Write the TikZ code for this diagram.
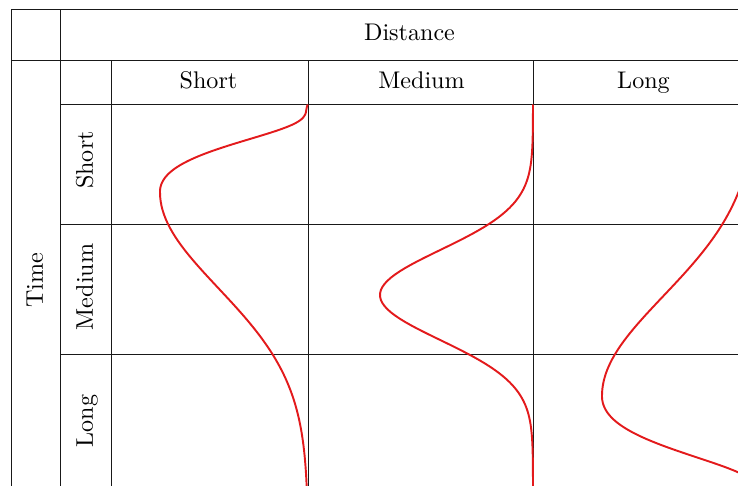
\documentclass[tikz,border=0pt]{standalone}
\definecolor{curvered}{RGB}{227,26,28}
\begin{document}
\begin{tikzpicture}[x=0.415pt,y=-0.415pt,
  grid/.style={line width=0.4pt,draw=black!90},
  curve/.style={line width=0.8pt,draw=curvered,line join=round},
  lbl/.style={inner sep=0pt,text height=1.5ex,text depth=.25ex},
  vlbl/.style={lbl,rotate=90}]
\useasboundingbox (0,0) rectangle (738,485);
\clip (0,0) rectangle (738,485);
% grid
\draw[grid] (11,9) rectangle (758,500);
\draw[grid] (60,9) -- (60,500);
\draw[grid] (11,60) -- (758,60);
\draw[grid] (111,60) -- (111,500);
\draw[grid] (60,104.5) -- (758,104.5);
\draw[grid] (308,60) -- (308,500);
\draw[grid] (533,60) -- (533,500);
\draw[grid] (60,224) -- (758,224);
\draw[grid] (60,354) -- (758,354);
% labels
\node[lbl] (dist) at (409.5,34.5) {Distance};
\node[lbl] (cshort) at (208.5,82.5) {Short};
\node[lbl] (cmed) at (421.5,82.5) {Medium};
\node[lbl] (clong) at (643.5,82.5) {Long};
\node[vlbl] (time) at (36.5,280) {Time};
\node[vlbl] (rshort) at (86.5,160) {Short};
\node[vlbl] (rmed) at (86.5,287) {Medium};
\node[vlbl] (rlong) at (86.5,421) {Long};
% curves
\draw[curve] plot[domain=104.5:192,samples=90,variable=\t]
  ({308-148*exp(max(-9,-ln((\t-104)/88)*ln((\t-104)/88)/0.9))-0.5*(\t-104)*exp(-(\t-104)/10)},\t)
  -- plot[domain=192:500,samples=70,variable=\t]
  ({308-148*exp(-((\t-192)/96)*((\t-192)/96)/2)},\t);
\draw[curve] (533,104.5) -- plot[domain=106:484,samples=120,variable=\t]
  ({533-153*exp(-((\t-295)/45)*((\t-295)/45)/2)},\t) -- (533,500);
\draw[curve] plot[domain=104:396,samples=80,variable=\t]
  ({758-156*exp(-((\t-396)/100)*((\t-396)/100)/2)},\t)
  -- plot[domain=396:492,samples=50,variable=\t]
  ({758-156*exp(-ln((500-\t)/104)*ln((500-\t)/104)/0.85)},\t) -- (758,500);
\end{tikzpicture}
\end{document}
